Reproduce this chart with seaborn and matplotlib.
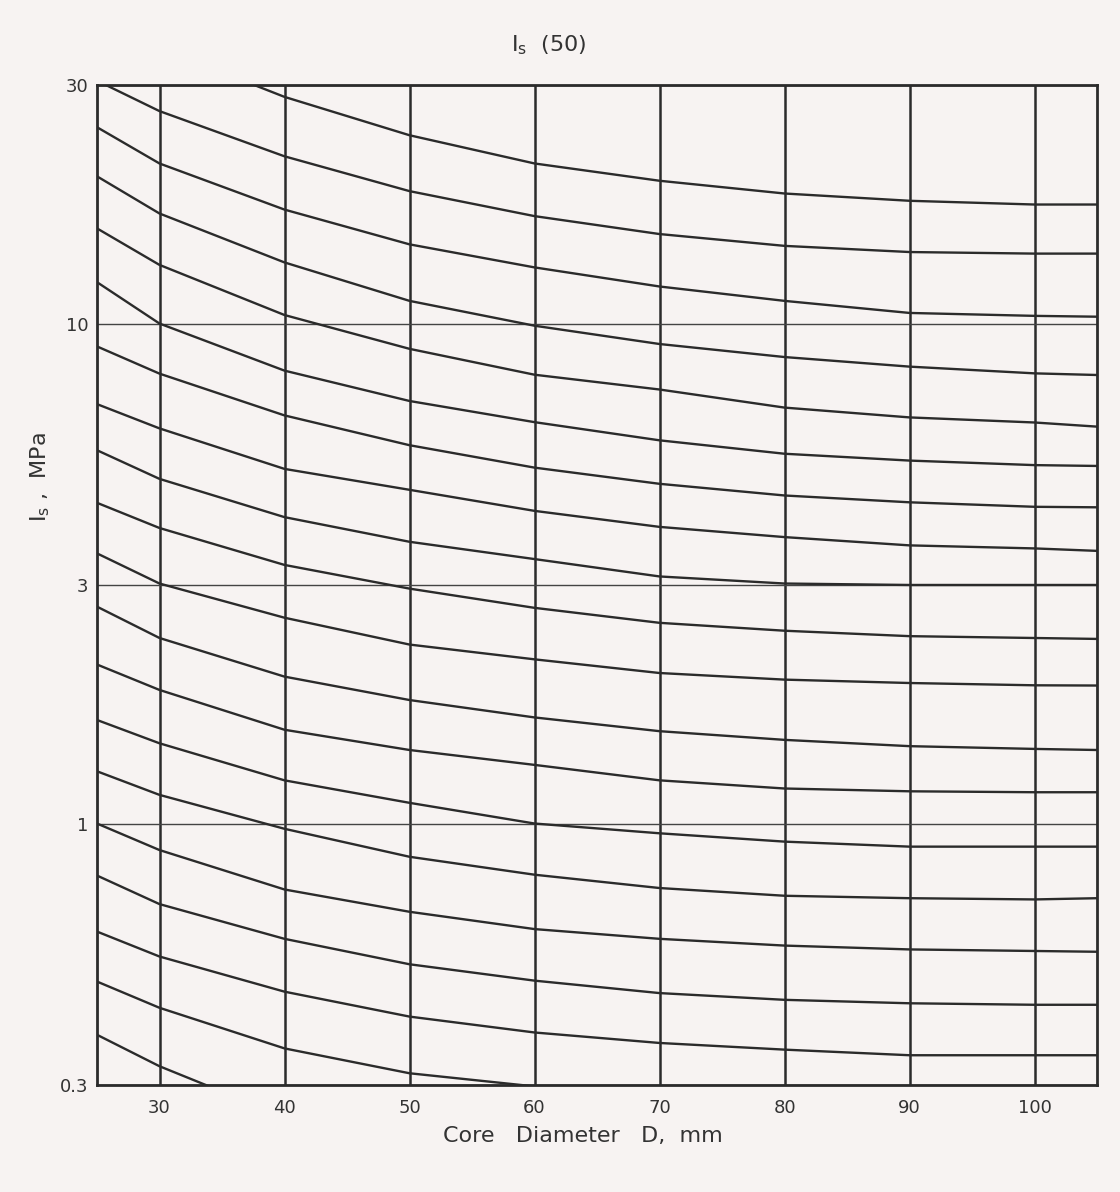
import numpy as np
import pandas as pd
import seaborn as sns
import matplotlib
matplotlib.use("Agg")
import matplotlib.pyplot as plt
from matplotlib.ticker import FixedLocator, FixedFormatter, NullLocator

diameters = [25, 30, 40, 50, 60, 70, 80, 90, 100, 105]

# Is (MPa) along each curve, top curve first (values beyond 30 / below 0.3 are clipped by the frame)
curve_01 = [41.0, 35.6, 28.4, 23.8, 20.9, 19.3, 18.2, 17.6, 17.3, 17.3]
curve_02 = [30.6, 26.6, 21.6, 18.4, 16.4, 15.1, 14.3, 13.9, 13.8, 13.8]
curve_03 = [24.7, 20.9, 16.9, 14.4, 12.95, 11.86, 11.1, 10.5, 10.36, 10.32]
curve_04 = [19.7, 16.6, 13.25, 11.1, 9.9, 9.1, 8.57, 8.2, 7.95, 7.89]
curve_05 = [15.5, 13.1, 10.4, 8.9, 7.9, 7.38, 6.79, 6.49, 6.34, 6.22]
curve_06 = [12.1, 10.0, 8.05, 7.0, 6.35, 5.84, 5.49, 5.32, 5.21, 5.19]
curve_07 = [9.0, 7.94, 6.55, 5.71, 5.15, 4.78, 4.53, 4.39, 4.30, 4.29]
curve_08 = [6.9, 6.17, 5.12, 4.65, 4.22, 3.92, 3.74, 3.60, 3.55, 3.51]
curve_09 = [5.58, 4.89, 4.10, 3.66, 3.38, 3.12, 3.02, 3.0, 3.0, 3.0]
curve_10 = [4.38, 3.90, 3.29, 2.95, 2.70, 2.52, 2.43, 2.37, 2.35, 2.34]
curve_11 = [3.47, 3.02, 2.58, 2.28, 2.13, 2.00, 1.94, 1.91, 1.89, 1.888]
curve_12 = [2.715, 2.35, 1.967, 1.766, 1.63, 1.53, 1.47, 1.428, 1.41, 1.403]
curve_13 = [2.08, 1.85, 1.54, 1.403, 1.31, 1.22, 1.175, 1.16, 1.155, 1.155]
curve_14 = [1.611, 1.447, 1.22, 1.10, 1.0, 0.956, 0.92, 0.899, 0.899, 0.899]
curve_15 = [1.272, 1.141, 0.976, 0.858, 0.79, 0.743, 0.717, 0.709, 0.705, 0.709]
curve_16 = [1.0, 0.885, 0.738, 0.666, 0.615, 0.588, 0.57, 0.56, 0.556, 0.554]
curve_17 = [0.787, 0.69, 0.588, 0.523, 0.485, 0.458, 0.444, 0.437, 0.434, 0.434]
curve_18 = [0.608, 0.542, 0.461, 0.411, 0.382, 0.364, 0.353, 0.344, 0.344, 0.344]
curve_19 = [0.483, 0.428, 0.355, 0.3166, 0.298, 0.285, 0.276, 0.27, 0.267, 0.266]
curve_20 = [0.378, 0.327, 0.259, 0.23, 0.215, 0.205, 0.2, 0.197, 0.196, 0.196]

curves = [curve_01, curve_02, curve_03, curve_04, curve_05, curve_06, curve_07,
          curve_08, curve_09, curve_10, curve_11, curve_12, curve_13, curve_14,
          curve_15, curve_16, curve_17, curve_18, curve_19, curve_20]

x_ticks = [30, 40, 50, 60, 70, 80, 90, 100]
y_ticks = [0.3, 1, 3, 10, 30]
y_tick_labels = ["0.3", "1", "3", "10", "30"]

rows = []
for i, vals in enumerate(curves):
    for d, v in zip(diameters, vals):
        rows.append({"curve": i, "D": d, "Is": v})
df = pd.DataFrame(rows)

sns.set_theme(style="white")
plt.rcParams["font.family"] = ["DejaVu Sans"]
plt.rcParams["mathtext.default"] = "regular"

ink = "#2b2b2b"
paper = "#f7f3f2"

fig = plt.figure(figsize=(11.2, 11.92), dpi=100, facecolor=paper)
ax = fig.add_axes([0.0866, 0.0898, 0.893, 0.8389])
ax.set_facecolor(paper)
ax.set_yscale("log")

sns.lineplot(data=df, x="D", y="Is", hue="curve", units="curve", estimator=None,
             palette=[ink] * len(curves), legend=False, linewidth=1.7, ax=ax)

ax.set_xlim(25, 105)
ax.set_ylim(0.3, 30)
ax.xaxis.set_major_locator(FixedLocator(x_ticks))
ax.yaxis.set_major_locator(FixedLocator(y_ticks))
ax.yaxis.set_major_formatter(FixedFormatter(y_tick_labels))
ax.yaxis.set_minor_locator(NullLocator())

ax.grid(axis="x", color=ink, linewidth=1.8)
ax.grid(axis="y", color="#444444", linewidth=1.0)
for s in ax.spines.values():
    s.set_color(ink)
    s.set_linewidth(2.0)

ax.tick_params(axis="both", length=0, labelsize=13, colors="#333333")
ax.tick_params(axis="x", pad=10)
ax.tick_params(axis="y", pad=6)
ax.set_xlabel("")
ax.set_ylabel("")

fig.text(0.49, 0.962, "I$_s$  (50)", ha="center", va="center", fontsize=16, color="#333333")
fig.text(0.036, 0.60, "I$_s$ ,  MPa", ha="center", va="center", rotation=90,
         fontsize=16, color="#333333")
fig.text(0.52, 0.047, "Core   Diameter   D,  mm", ha="center", va="center",
         fontsize=16, color="#333333")

fig.savefig("out.png", dpi=100, facecolor=paper)
